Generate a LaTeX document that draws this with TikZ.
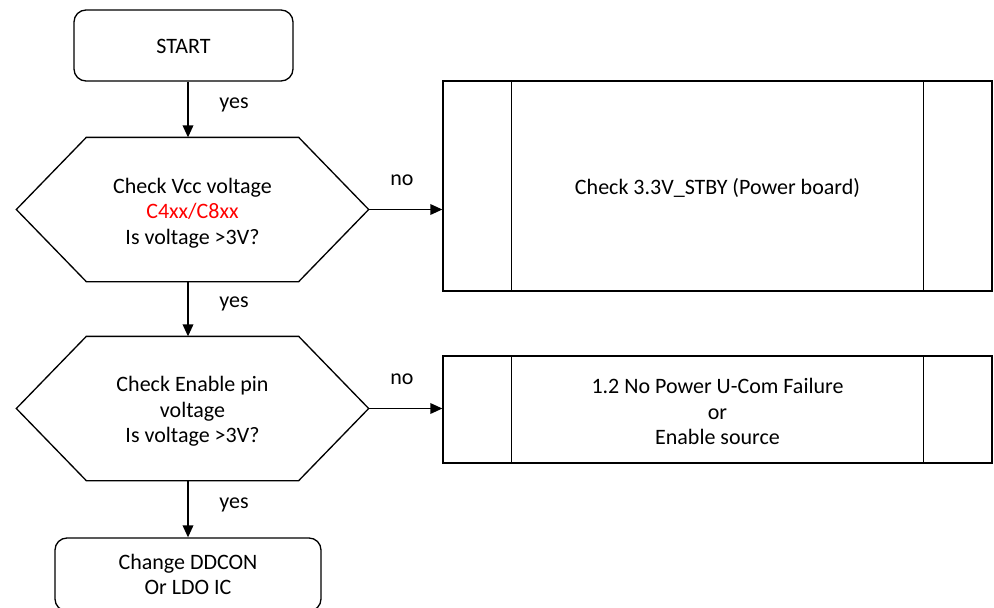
\documentclass[tikz,border=0pt]{standalone}
\usepackage{fontspec}
\setmainfont{Carlito}
\usetikzlibrary{arrows.meta}
\begin{document}
\begin{tikzpicture}[x=0.75pt,y=-0.75pt,
  line width=1pt,
  txt/.style={font=\fontsize{16.5}{19.1}\selectfont, align=center, inner sep=0pt},
  term/.style={draw, rounded corners=9pt, inner sep=0pt},
  hexbox/.style={draw=none, inner sep=0pt, minimum width=263.25pt, minimum height=107.25pt},
  hexedge/.style={draw, line join=miter},
  proc/.style={draw, inner sep=0pt, minimum width=411.75pt},
  arr/.style={-{Triangle[length=9pt,width=8pt]}},
  lbl/.style={txt}
]
\path[use as bounding box, clip] (0,0) rectangle (994,607);

% shapes
\node[term, minimum width=164.25pt, minimum height=53.25pt] (start) at (183.5,45.5) {};
\node[txt] (startt) at ([yshift=-0.75pt]start.center) {START};

\node[hexbox] (h1) at (192.5,209.5) {};
\draw[hexedge] (h1.west) -- ([xshift=52.5pt]h1.north west) -- ([xshift=-52.5pt]h1.north east)
  -- (h1.east) -- ([xshift=-52.5pt]h1.south east) -- ([xshift=52.5pt]h1.south west) -- cycle;
\node[txt] (h1t) at ([yshift=-2.6pt]h1.center) {Check Vcc voltage\\\textcolor{red}{C4xx/C8xx}\\Is voltage >3V?};

\node[hexbox] (h2) at (192.5,408.5) {};
\draw[hexedge] (h2.west) -- ([xshift=52.5pt]h2.north west) -- ([xshift=-52.5pt]h2.north east)
  -- (h2.east) -- ([xshift=-52.5pt]h2.south east) -- ([xshift=52.5pt]h2.south west) -- cycle;
\node[txt] (h2t) at ([yshift=-2.25pt]h2.center) {Check Enable pin\\voltage\\Is voltage >3V?};

\node[proc, minimum height=157.5pt] (p1) at (717.5,186) {};
\draw ([xshift=51.75pt]p1.north west) -- ([xshift=51.75pt]p1.south west);
\draw ([xshift=-51.75pt]p1.north east) -- ([xshift=-51.75pt]p1.south east);
\node[txt] (p1t) at ([yshift=-1.5pt]p1.center) {Check 3.3V\_STBY (Power board)};

\node[proc, minimum height=80.25pt] (p2) at (717.5,409.5) {};
\draw ([xshift=51.75pt]p2.north west) -- ([xshift=51.75pt]p2.south west);
\draw ([xshift=-51.75pt]p2.north east) -- ([xshift=-51.75pt]p2.south east);
\node[txt] (p2t) at ([yshift=-1.5pt]p2.center) {1.2 No Power U-Com Failure\\or\\Enable source};

\node[term, minimum width=199.5pt, minimum height=54.75pt] (endbox) at (188,574.5) {};
\node[txt] (endt) at (endbox.center) {Change DDCON\\Or LDO IC};

% connectors
\coordinate (ax) at (188,0);
\draw[arr] (start.south -| ax) -- (h1.north -| ax);
\draw[arr] (h1.south -| ax) -- (h2.north -| ax);
\draw[arr] (h2.south -| ax) -- (endbox.north -| ax);
\draw[arr] (h1.east) -- (p1.west |- h1.east);
\draw[arr] (h2.east) -- (p2.west |- h2.east);

% labels
\node[lbl] (y1) at (234,104.5) {yes};
\node[lbl] (y2) at (234,303.5) {yes};
\node[lbl] (y3) at (234,504.5) {yes};
\node[lbl] (n1) at (402,180) {no};
\node[lbl] (n2) at (402,379) {no};
\end{tikzpicture}
\end{document}
